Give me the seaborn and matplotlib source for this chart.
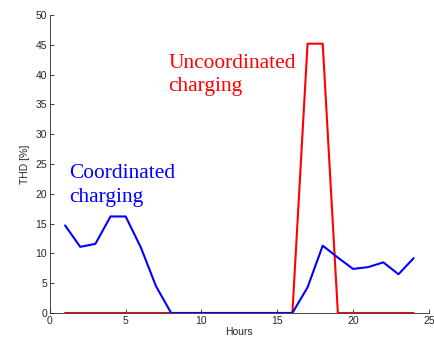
import numpy as np
import pandas as pd
import matplotlib
matplotlib.use("Agg")
import matplotlib.pyplot as plt
import seaborn as sns

hours = list(range(1, 25))
coordinated = [14.7, 11.1, 11.6, 16.2, 16.2, 11.0, 4.5, 0, 0, 0, 0, 0, 0, 0, 0, 0,
               4.3, 11.3, 9.3, 7.4, 7.7, 8.5, 6.5, 9.2]
uncoordinated = [0, 0, 0, 0, 0, 0, 0, 0, 0, 0, 0, 0, 0, 0, 0, 0,
                 45.2, 45.2, 0, 0, 0, 0, 0, 0]

df = pd.DataFrame({"Hours": hours + hours,
                   "THD": uncoordinated + coordinated,
                   "case": ["Uncoordinated"] * 24 + ["Coordinated"] * 24})

sns.set_style("ticks")
plt.rcParams["font.family"] = ["Liberation Sans", "DejaVu Sans"]

fig = plt.figure(figsize=(4.34, 3.43), dpi=100)
ax = fig.add_axes([0.115, 0.0875, 0.873, 0.8685])

sns.lineplot(data=df, x="Hours", y="THD", hue="case",
             palette={"Uncoordinated": "#ff0000", "Coordinated": "#0000ff"},
             linewidth=1.5, legend=False, ax=ax)

ax.set_xlim(0, 25)
ax.set_ylim(0, 50)
ax.set_xticks(np.arange(0, 26, 5))
ax.set_yticks(np.arange(0, 51, 5))
ax.tick_params(direction="in", length=3, width=0.6, labelsize=7.5, pad=2)
ax.set_xlabel("Hours", fontsize=7.5, labelpad=1)
ax.set_ylabel("THD [%]", fontsize=7.5, labelpad=4)
for s in ["top", "right"]:
    ax.spines[s].set_visible(False)
for s in ["left", "bottom"]:
    ax.spines[s].set_linewidth(0.6)

ax.text(1.3, 21.4, "Coordinated\ncharging", color="#0000ff", fontsize=15.4,
        family=["Liberation Serif"], va="center", ha="left", linespacing=1.3)
ax.text(7.8, 40.0, "Uncoordinated\ncharging", color="#ff0000", fontsize=15.4,
        family=["Liberation Serif"], va="center", ha="left", linespacing=1.3)

fig.savefig("out.png", dpi=100)
